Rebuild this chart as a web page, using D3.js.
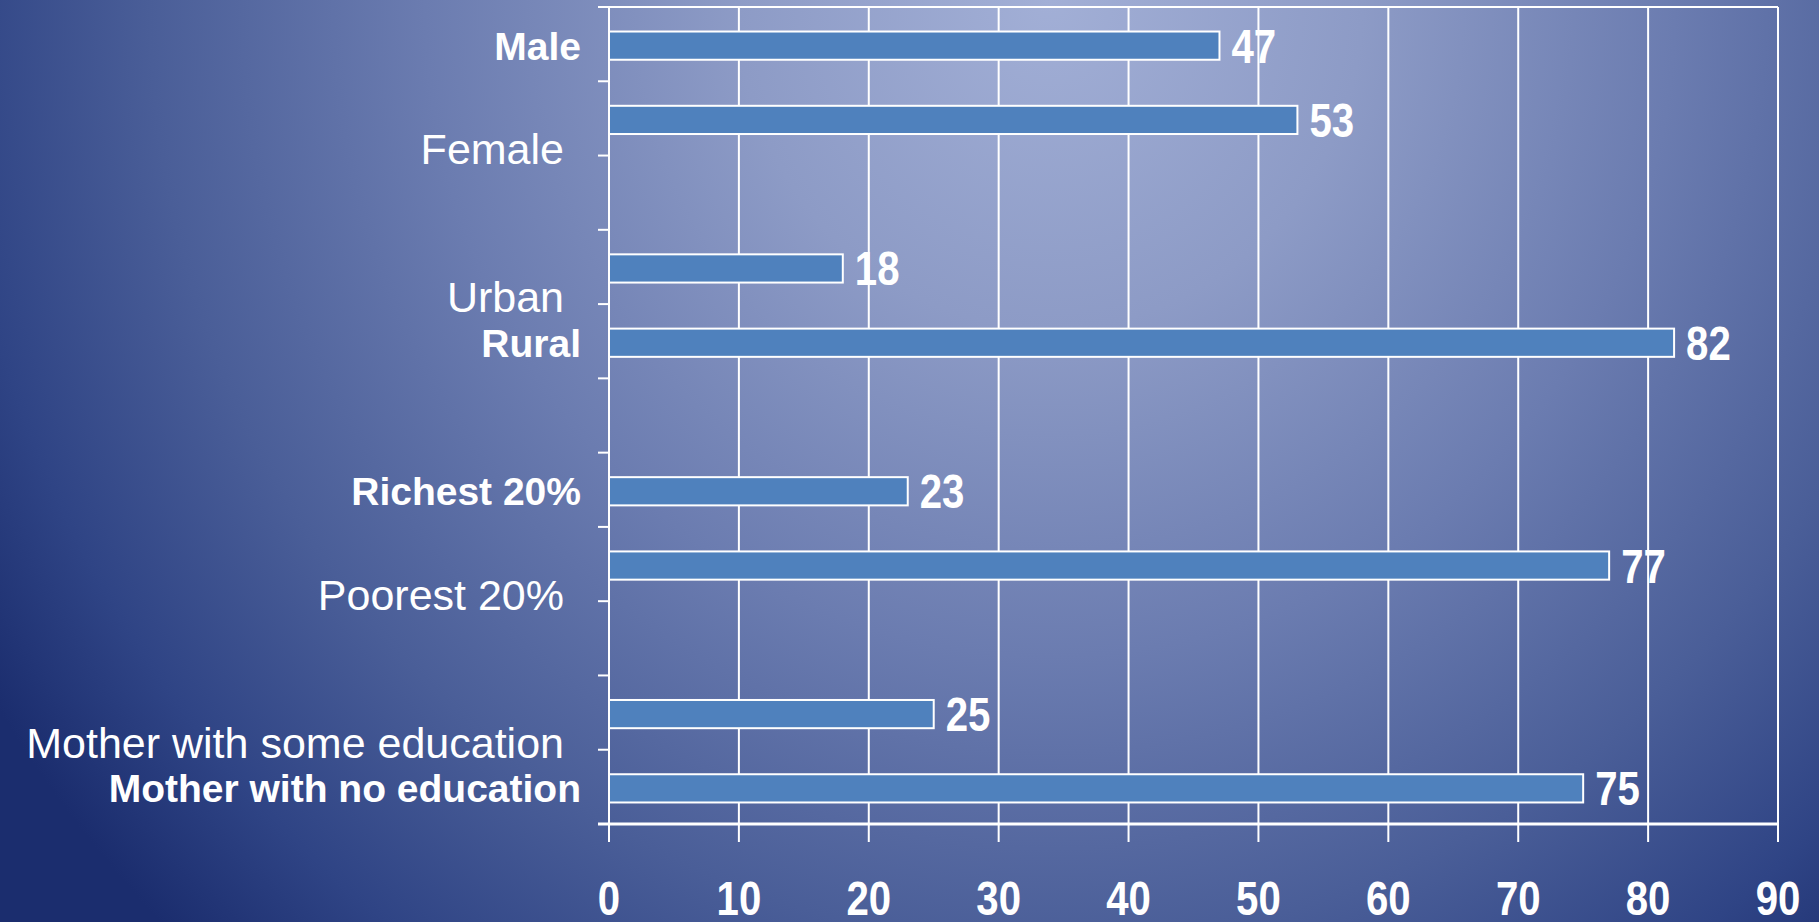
<!DOCTYPE html>
<html>
<head>
<meta charset="utf-8">
<script src="https://cdn.jsdelivr.net/npm/d3@7"></script>
<style>
  html, body { margin: 0; padding: 0; background: #1b2c6d; overflow: hidden; }
  svg { display: block; }
</style>
</head>
<body>
<svg id="chart" width="1819" height="922"></svg>
<script>
// Share of children (%) by background characteristic
const categories = [
  "Male", "Female",
  "Urban", "Rural",
  "Richest 20%", "Poorest 20%",
  "Mother with some education", "Mother with no education"
];
const values = [47, 53, 18, 82, 23, 77, 25, 75];
// categories are shown in pairs, with an empty row between pairs
const groups = [[0, 1], [2, 3], [4, 5], [6, 7]];
// the category in each pair that is set in bold
const emphasised = ["Male", "Rural", "Richest 20%", "Mother with no education"];
const xTicks = [0, 10, 20, 30, 40, 50, 60, 70, 80, 90];

const W = 1819, H = 922;
const plot = { left: 609, right: 1778, top: 7, bottom: 824 };
const svg = d3.select("#chart");

// background: soft radial light from the upper middle, dark navy towards the corners
const defs = svg.append("defs");
const grad = defs.append("radialGradient")
  .attr("id", "bg")
  .attr("gradientUnits", "userSpaceOnUse")
  .attr("cx", 1050).attr("cy", 0).attr("r", 1250)
  .attr("gradientTransform", "translate(1050,0) scale(1,1.05) translate(-1050,0)");
[[0, "#a2afd6"], [0.25, "#8d9bc6"], [0.5, "#6b7cb0"], [0.72, "#4a5e98"], [0.88, "#2f4485"], [1, "#1b2d6e"]]
  .forEach(([o, c]) => grad.append("stop").attr("offset", o).attr("stop-color", c));
svg.append("rect").attr("width", W).attr("height", H).attr("fill", "url(#bg)");

// rows: each category plus spacer rows between groups
const rows = [];
groups.forEach((g, gi) => {
  g.forEach(i => rows.push({ key: categories[i], value: values[i], cat: categories[i] }));
  if (gi < groups.length - 1) rows.push({ key: "__spacer" + gi, value: null, cat: null });
});

const x = d3.scaleLinear().domain([0, 90]).range([plot.left, plot.right]);
const y = d3.scaleBand().domain(rows.map(r => r.key)).range([plot.top, plot.bottom]).padding(0);
const step = y.step();
const barH = step * 0.38;
const center = k => y(k) + step / 2 + 1.5;

const g = svg.append("g");

// vertical gridlines, extended below the plot as tick marks
g.selectAll("line.grid").data(xTicks).join("line")
  .attr("class", "grid")
  .attr("x1", d => x(d)).attr("x2", d => x(d))
  .attr("y1", plot.top).attr("y2", plot.bottom + 18)
  .attr("stroke", "#ffffff").attr("stroke-width", 2);

// top and bottom frame lines
g.append("line")
  .attr("x1", plot.left - 11).attr("x2", plot.right)
  .attr("y1", plot.top).attr("y2", plot.top)
  .attr("stroke", "#ffffff").attr("stroke-width", 2);
g.append("line")
  .attr("x1", plot.left - 11).attr("x2", plot.right)
  .attr("y1", plot.bottom).attr("y2", plot.bottom)
  .attr("stroke", "#ffffff").attr("stroke-width", 3);

// category axis tick marks at row boundaries
const boundaries = rows.map(r => y(r.key)).concat([plot.bottom]);
g.selectAll("line.ytick").data(boundaries).join("line")
  .attr("class", "ytick")
  .attr("x1", plot.left - 11).attr("x2", plot.left)
  .attr("y1", d => d).attr("y2", d => d)
  .attr("stroke", "#ffffff").attr("stroke-width", 2);

// bars
const data = rows.filter(r => r.cat !== null);
g.selectAll("rect.bar").data(data).join("rect")
  .attr("class", "bar")
  .attr("x", x(0))
  .attr("y", d => center(d.key) - barH / 2)
  .attr("width", d => x(d.value) - x(0))
  .attr("height", barH)
  .attr("fill", "#4f81bd")
  .attr("stroke", "#ffffff").attr("stroke-width", 2);

// category axis line
g.append("line")
  .attr("x1", plot.left).attr("x2", plot.left)
  .attr("y1", plot.top).attr("y2", plot.bottom + 18)
  .attr("stroke", "#ffffff").attr("stroke-width", 2);

// value labels (bold, condensed)
g.selectAll("text.val").data(data).join("text")
  .attr("class", "val")
  .attr("transform", d => `translate(${x(d.value) + 12},${center(d.key) + 17}) scale(0.82,1)`)
  .attr("font-family", "'Liberation Sans', Arial, sans-serif")
  .attr("font-weight", "bold")
  .attr("font-size", 49)
  .attr("fill", "#ffffff")
  .text(d => d.value);

// category labels
g.selectAll("text.cat").data(data).join("text")
  .attr("class", "cat")
  .attr("x", d => emphasised.includes(d.cat) ? 581 : 564)
  .attr("y", d => center(d.key) + (emphasised.includes(d.cat) ? 14 : 44))
  .attr("text-anchor", "end")
  .attr("font-family", "'Liberation Sans', Arial, sans-serif")
  .attr("font-weight", d => emphasised.includes(d.cat) ? "bold" : "normal")
  .attr("font-size", d => emphasised.includes(d.cat) ? 39 : 43)
  .attr("fill", "#ffffff")
  .text(d => d.cat);

// value axis tick labels
g.selectAll("text.xt").data(xTicks).join("text")
  .attr("class", "xt")
  .attr("transform", d => `translate(${x(d)},915) scale(0.82,1)`)
  .attr("text-anchor", "middle")
  .attr("font-family", "'Liberation Sans', Arial, sans-serif")
  .attr("font-weight", "bold")
  .attr("font-size", 49)
  .attr("fill", "#ffffff")
  .text(d => d);
</script>
</body>
</html>
